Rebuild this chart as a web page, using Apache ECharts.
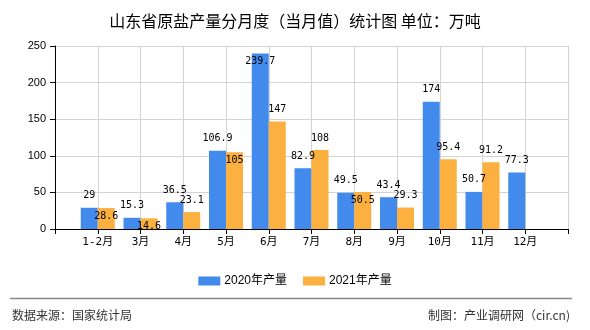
<!DOCTYPE html>
<html>
<head>
<meta charset="utf-8">
<script src="https://cdn.jsdelivr.net/npm/echarts@6/dist/echarts.min.js"></script>
<style>html,body{margin:0;padding:0;background:#fff}#c{width:590px;height:330px}</style>
</head>
<body>
<div id="c"></div>
<script>
const categories = ['1-2月','3月','4月','5月','6月','7月','8月','9月','10月','11月','12月'];
const values2020 = [29, 15.3, 36.5, 106.9, 239.7, 82.9, 49.5, 43.4, 174, 50.7, 77.3];
const values2021 = [28.6, 14.6, 23.1, 105, 147, 108, 50.5, 29.3, 95.4, 91.2, null];
const yTicks = [0, 50, 100, 150, 200, 250];
// indices whose value labels sit just inside the bar top
const inside2020 = [4];
const inside2021 = [0, 1, 3, 6];

const axisCats = [''].concat(categories, ['']);
function buildSeries(vals, insideIdx) {
  const out = ['-'];
  vals.forEach((v, i) => {
    if (v === null) { out.push('-'); return; }
    if (insideIdx.indexOf(i) >= 0) {
      out.push({ value: v, label: { position: 'insideTop', distance: 3 } });
    } else out.push(v);
  });
  out.push('-');
  return out;
}
const labelStyle = { show: true, position: 'top', distance: 7, color: '#000',
  fontFamily: 'DejaVu Sans Mono, Liberation Mono, monospace', fontSize: 10 };

const chart = echarts.init(document.getElementById('c'), null, { renderer: 'canvas' });
chart.setOption({
  animation: false,
  backgroundColor: '#fff',
  title: {
    text: '山东省原盐产量分月度（当月值）统计图 单位：万吨',
    left: 'center', top: 8,
    textStyle: { fontSize: 16, fontWeight: 'normal', color: '#000', fontFamily: 'Noto Sans CJK SC' }
  },
  legend: {
    data: ['2020年产量', '2021年产量'],
    left: 'center', top: 270,
    itemWidth: 22, itemHeight: 9, itemGap: 16,
    icon: 'rect',
    textStyle: { fontSize: 12, color: '#000', fontFamily: 'Liberation Sans, Noto Sans CJK SC', padding: [0,0,0,-1] }
  },
  grid: { left: 55, right: 22, top: 46, bottom: 101, containLabel: false },
  xAxis: {
    type: 'category',
    data: axisCats,
    boundaryGap: false,
    axisLine: { lineStyle: { color: '#000', width: 1 } },
    axisTick: { show: true, interval: 0, length: 5, lineStyle: { color: '#000' } },
    axisLabel: { interval: 0, color: '#000', fontSize: 11, margin: 8,
      fontFamily: 'DejaVu Sans Mono, Noto Sans CJK SC' },
    splitLine: { show: true, interval: 0, lineStyle: { color: '#d3d3d3', width: 1 } }
  },
  yAxis: {
    type: 'value',
    min: yTicks[0], max: yTicks[yTicks.length - 1], interval: 50,
    axisLine: { show: true, lineStyle: { color: '#000', width: 1 } },
    axisTick: { show: true, length: 5, lineStyle: { color: '#000' } },
    axisLabel: { color: '#000', fontSize: 11, margin: 9, fontFamily: 'Liberation Sans, Arial' },
    splitLine: { show: true, lineStyle: { color: '#d3d3d3', width: 1 } }
  },
  series: [
    { name: '2020年产量', type: 'bar', data: buildSeries(values2020, inside2020),
      barWidth: 17, barGap: '0%', itemStyle: { color: '#428BEC' }, label: labelStyle },
    { name: '2021年产量', type: 'bar', data: buildSeries(values2021, inside2021),
      barWidth: 17, barGap: '0%', itemStyle: { color: '#FBB03F' }, label: labelStyle }
  ],
  graphic: [
    { type: 'line', shape: { x1: 10, y1: 298.5, x2: 572, y2: 298.5 },
      style: { stroke: '#8a8a8a', lineWidth: 1.5 } },
    { type: 'text', left: 12, top: 309,
      style: { text: '数据来源：国家统计局', fontSize: 12, fill: '#333', fontFamily: 'Noto Sans CJK SC' } },
    { type: 'text', right: 20, top: 309,
      style: { text: '制图：产业调研网（cir.cn)', fontSize: 12, fill: '#333', fontFamily: 'Noto Sans CJK SC' } }
  ]
});
</script>
</body>
</html>
